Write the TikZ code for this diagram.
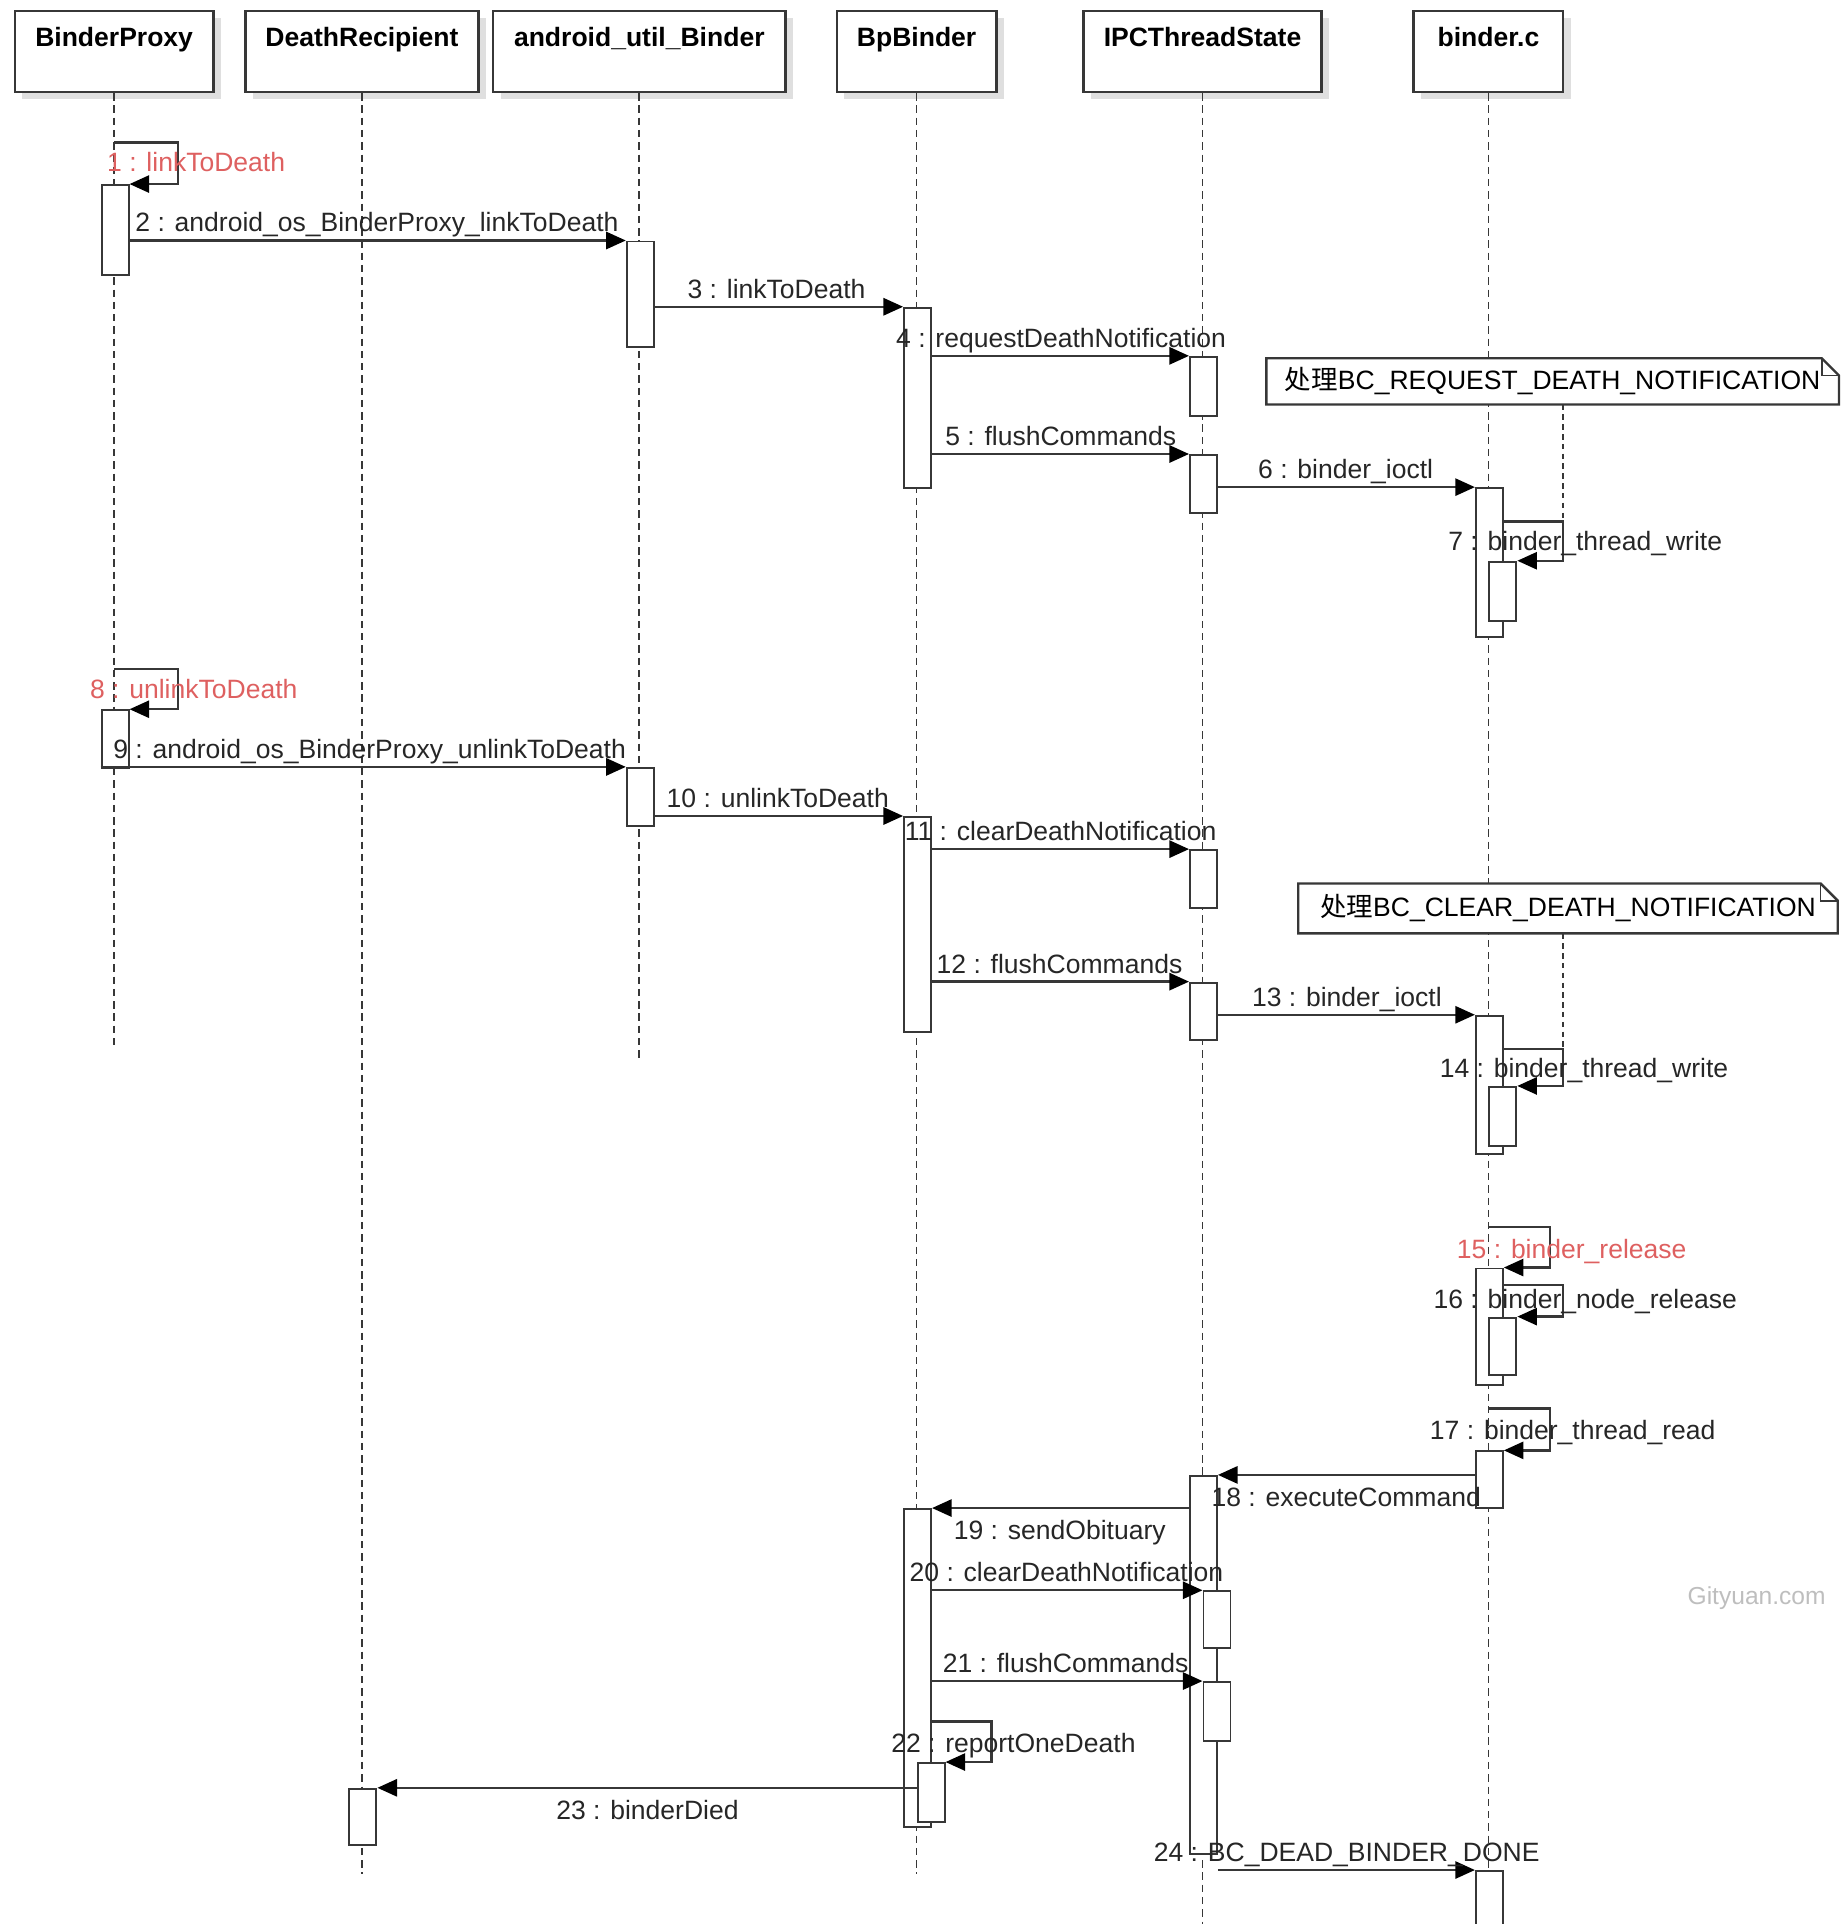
\documentclass[tikz,border=0pt]{standalone}
\usepackage{fontspec}
\setmainfont{Liberation Sans}
\newfontfamily\cjk{Noto Sans CJK SC}
\usetikzlibrary{arrows.meta,shadows}

\definecolor{ln}{RGB}{55,55,55}
\definecolor{callred}{RGB}{222,96,96}
\definecolor{wmark}{RGB}{190,190,190}

\newlength\ux
\setlength\ux{0.2mm}

\tikzset{
  every node/.style={font=\fontsize{12.3pt}{14pt}\selectfont},
  head/.style={draw=ln, line width=1.1pt, fill=white, anchor=north,
    minimum height=66\ux, inner sep=0pt,
    drop shadow={shadow xshift=1.2mm, shadow yshift=-1.2mm, fill=black!25, opacity=0.5}},
  htext/.style={font=\fontsize{12.3pt}{14pt}\selectfont\bfseries, inner sep=0pt, anchor=base},
  life/.style={draw=ln, line width=0.8pt, dash pattern=on 1.2mm off 0.8mm},
  act/.style={draw=ln, line width=0.9pt, fill=white, anchor=north west,
    minimum width=22\ux, inner sep=0pt},
  msg/.style={draw=ln, line width=1.1pt,
    -{Triangle[length=3.2mm,width=2.8mm,color=black]}},
  lbl/.style={anchor=base west, inner sep=0pt, text=black!85},
  redlbl/.style={lbl, text=callred},
  notebox/.style={anchor=north west, inner sep=0pt, fill=white, draw=none},
  notebd/.style={draw=ln, line width=1.1pt},
  notelink/.style={draw=ln, line width=0.8pt, dash pattern=on 0.9mm off 0.7mm},
}

% activation bar: name, left x, top y, bottom y
\newcommand\actbox[4]{\node[act, minimum height={(#4-#3)*\ux}] (#1) at (#2,#3) {};}

\begin{document}
\begin{tikzpicture}[x=0.2mm, y=-0.2mm]
\useasboundingbox (0,0) rectangle (1501,1568);

% participants
\node[head, minimum width=162\ux] (hBP)  at (93,8) {};
\node[head, minimum width=190\ux] (hDR)  at (295,8) {};
\node[head, minimum width=238\ux] (hAUB) at (521,8) {};
\node[head, minimum width=130\ux] (hBPB) at (747,8) {};
\node[head, minimum width=194\ux] (hIPC) at (980,8) {};
\node[head, minimum width=122\ux] (hBC)  at (1213,8) {};
\node[htext] (tBP)  at ([yshift=-29.5\ux]hBP.north)  {BinderProxy};
\node[htext] (tDR)  at ([yshift=-29.5\ux]hDR.north)  {DeathRecipient};
\node[htext] (tAUB) at ([yshift=-29.5\ux]hAUB.north) {android\_util\_Binder};
\node[htext] (tBPB) at ([yshift=-29.5\ux]hBPB.north) {BpBinder};
\node[htext] (tIPC) at ([yshift=-29.5\ux]hIPC.north) {IPCThreadState};
\node[htext] (tBC)  at ([yshift=-29.5\ux]hBC.north)  {binder.c};

% lifelines
\coordinate (eBP)  at (93,855);
\coordinate (eDR)  at (295,1527);
\coordinate (eAUB) at (521,865);
\coordinate (eBPB) at (747,1527);
\coordinate (eIPC) at (980,1575);
\coordinate (eBC)  at (1213,1575);
\draw[life] (hBP.south)  -- (eBP);
\draw[life] (hDR.south)  -- (eDR);
\draw[life] (hAUB.south) -- (eAUB);
\draw[life] (hBPB.south) -- (eBPB);
\draw[life] (hIPC.south) -- (eIPC);
\draw[life] (hBC.south)  -- (eBC);

% notes with a folded corner
\node[notebox, minimum width=466\ux, minimum height=37\ux] (n1) at (1032,292)
  {{\cjk 处理}BC\_REQUEST\_DEATH\_NOTIFICATION\hspace{14\ux}};
\node[notebox, minimum width=439\ux, minimum height=40\ux] (n2) at (1058,720)
  {{\cjk 处理}BC\_CLEAR\_DEATH\_NOTIFICATION\hspace{12\ux}};
\foreach \n in {n1,n2}{
  \draw[notebd] (\n.north west) -- ([xshift=-14\ux]\n.north east)
    -- ([yshift=-14\ux]\n.north east) -- (\n.south east) -- (\n.south west) -- cycle;
  \draw[draw=ln, line width=0.8pt] ([xshift=-14\ux]\n.north east)
    -- ([xshift=-14\ux,yshift=-14\ux]\n.north east) -- ([yshift=-14\ux]\n.north east);
}

% activation bars
\actbox{bp1}{82}{150}{223}
\actbox{aub1}{510}{196}{282}
\actbox{bpb1}{736}{250}{397}
\actbox{ipc1}{969}{290}{338}
\actbox{ipc2}{969}{370}{417}
\actbox{bc1}{1202}{397}{518}
\actbox{bc1n}{1213}{457}{505}
\actbox{bp2}{82}{578}{625}
\actbox{aub2}{510}{625}{672}
\actbox{bpb2}{736}{665}{840}
\actbox{ipc3}{969}{692}{739}
\actbox{ipc4}{969}{800}{847}
\actbox{bc2}{1202}{827}{940}
\actbox{bc2n}{1213}{885}{933}
\actbox{bc3}{1202}{1033}{1128}
\actbox{bc3n}{1213}{1073}{1120}
\actbox{bc4}{1202}{1182}{1228}
\actbox{ipc5}{969}{1202}{1510}
\actbox{bpb3}{736}{1229}{1488}
\actbox{ipc5a}{980}{1296}{1342}
\actbox{ipc5b}{980}{1370}{1418}
\actbox{bpb3n}{747}{1436}{1484}
\actbox{dr1}{284}{1457}{1503}
\actbox{bc5}{1202}{1524}{1580}

% corners of the self calls
\coordinate (c1)  at (145,116);
\coordinate (c7)  at (1274,425);
\coordinate (c8)  at (145,545);
\coordinate (c14) at (1274,855);
\coordinate (c15) at (1263,1000);
\coordinate (c16) at (1274,1047);
\coordinate (c17) at (1263,1148);
\coordinate (c22) at (808,1403);

% note links
\draw[notelink] (n1.south -| c7) -- (c7);
\draw[notelink] (n2.south -| c14) -- (c14);

% messages
\draw[msg] (hBP.south |- c1) -- (c1) |- (bp1.north east);
\draw[msg] (bp1.east |- aub1.north) -- (aub1.north west);
\draw[msg] (aub1.east |- bpb1.north) -- (bpb1.north west);
\draw[msg] (bpb1.east |- ipc1.north) -- (ipc1.north west);
\draw[msg] (bpb1.east |- ipc2.north) -- (ipc2.north west);
\draw[msg] (ipc2.east |- bc1.north) -- (bc1.north west);
\draw[msg] (bc1.east |- c7) -- (c7) |- (bc1n.north east);
\draw[msg] (hBP.south |- c8) -- (c8) |- (bp2.north east);
\draw[msg] (bp2.west |- aub2.north) -- (aub2.north west);
\draw[msg] (aub2.east |- bpb2.north) -- (bpb2.north west);
\draw[msg] (bpb2.east |- ipc3.north) -- (ipc3.north west);
\draw[msg] (bpb2.east |- ipc4.north) -- (ipc4.north west);
\draw[msg] (ipc4.east |- bc2.north) -- (bc2.north west);
\draw[msg] (bc2.east |- c14) -- (c14) |- (bc2n.north east);
\draw[msg] (hBC.south |- c15) -- (c15) |- (bc3.north east);
\draw[msg] (bc3.east |- c16) -- (c16) |- (bc3n.north east);
\draw[msg] (hBC.south |- c17) -- (c17) |- (bc4.north east);
\draw[msg] (bc4.west |- ipc5.north) -- (ipc5.north east);
\draw[msg] (ipc5.west |- bpb3.north) -- (bpb3.north east);
\draw[msg] (bpb3.east |- ipc5a.north) -- (ipc5a.north west);
\draw[msg] (bpb3.east |- ipc5b.north) -- (ipc5b.north west);
\draw[msg] (bpb3.east |- c22) -- (c22) |- (bpb3n.north east);
\draw[msg] (bpb3n.west |- dr1.north) -- (dr1.north east);
\draw[msg] (ipc5.east |- bc5.north) -- (bc5.north west);

% message labels
\node[redlbl] (l1)  at (87,140)   {1 : linkToDeath};
\node[lbl]    (l2)  at (110,189)  {2 : android\_os\_BinderProxy\_linkToDeath};
\node[lbl]    (l3)  at (560,243)  {3 : linkToDeath};
\node[lbl]    (l4)  at (730,283)  {4 : requestDeathNotification};
\node[lbl]    (l5)  at (770,363)  {5 : flushCommands};
\node[lbl]    (l6)  at (1025,390) {6 : binder\_ioctl};
\node[lbl]    (l7)  at (1180,449) {7 : binder\_thread\_write};
\node[redlbl] (l8)  at (73,569)   {8 : unlinkToDeath};
\node[lbl]    (l9)  at (92,618)   {9 : android\_os\_BinderProxy\_unlinkToDeath};
\node[lbl]    (l10) at (543,658)  {10 : unlinkToDeath};
\node[lbl]    (l11) at (737,685)  {11 : clearDeathNotification};
\node[lbl]    (l12) at (763,793)  {12 : flushCommands};
\node[lbl]    (l13) at (1020,820) {13 : binder\_ioctl};
\node[lbl]    (l14) at (1173,878) {14 : binder\_thread\_write};
\node[redlbl] (l15) at (1187,1026) {15 : binder\_release};
\node[lbl]    (l16) at (1168,1066) {16 : binder\_node\_release};
\node[lbl]    (l17) at (1165,1173) {17 : binder\_thread\_read};
\node[lbl]    (l18) at (987,1228)  {18 : executeCommand};
\node[lbl]    (l19) at (777,1255)  {19 : sendObituary};
\node[lbl]    (l20) at (741,1289)  {20 : clearDeathNotification};
\node[lbl]    (l21) at (768,1363)  {21 : flushCommands};
\node[lbl]    (l22) at (726,1428)  {22 : reportOneDeath};
\node[lbl]    (l23) at (453,1483)  {23 : binderDied};
\node[lbl]    (l24) at (940,1517)  {24 : BC\_DEAD\_BINDER\_DONE};

% site mark
\node[anchor=base west, inner sep=0pt, text=wmark, font=\fontsize{11.4pt}{13pt}\selectfont]
  (wm) at (1375,1308) {Gityuan.com};
\end{tikzpicture}
\end{document}
